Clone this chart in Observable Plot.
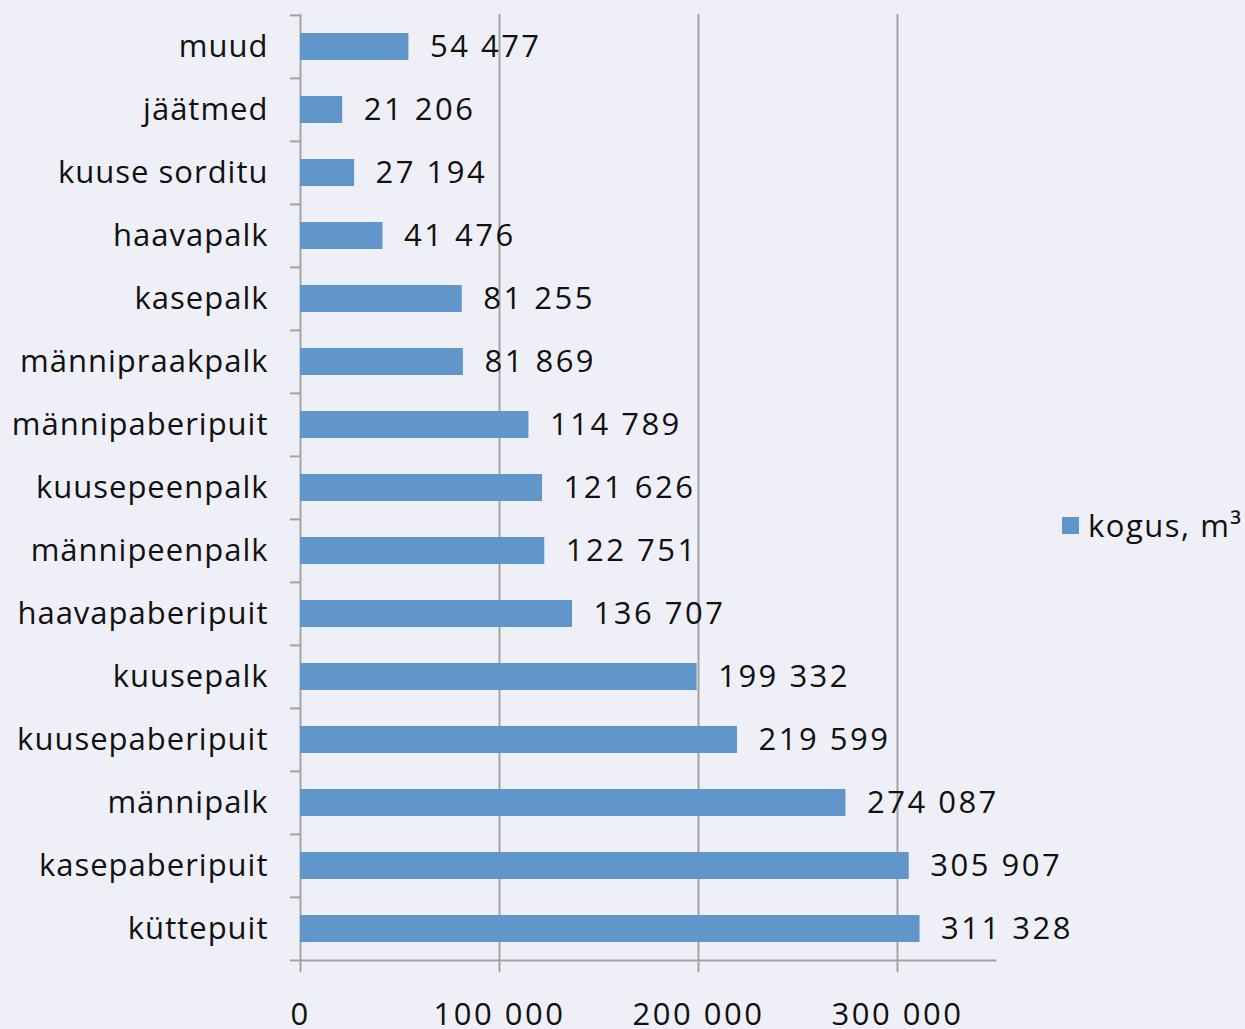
<!DOCTYPE html>
<html><head><meta charset="utf-8">
<script src="https://cdn.jsdelivr.net/npm/d3@7"></script>
<script src="https://cdn.jsdelivr.net/npm/@observablehq/plot@0.6"></script>
<style>
html,body{margin:0;padding:0;background:#eff0f7;}
#wrap{position:relative;width:1245px;height:1029px;overflow:hidden;font-family:"Open Sans",sans-serif;}
#legend{position:absolute;left:1062px;top:504px;font-size:31px;letter-spacing:1.5px;color:#111;white-space:nowrap;display:flex;align-items:center;}
#legend span.sw{display:inline-block;width:17px;height:17px;background:#6196cb;margin-right:9px;}
</style></head>
<body><div id="wrap"><div id="legend"><span class="sw"></span>kogus, m³</div></div>
<script>
const categories = ["muud","jäätmed","kuuse sorditu","haavapalk","kasepalk","männipraakpalk","männipaberipuit","kuusepeenpalk","männipeenpalk","haavapaberipuit","kuusepalk","kuusepaberipuit","männipalk","kasepaberipuit","küttepuit"];
const values = [54477,21206,27194,41476,81255,81869,114789,121626,122751,136707,199332,219599,274087,305907,311328];
const xTicks = [0,100000,200000,300000];
const seriesName = "kogus, m³";

const data = categories.map((c,i)=>({cat:c, v:values[i]}));
const fmt = v => d3.format(",")(v).replace(/,/g," ");
const W=1245,H=1029, mL=300, mR=248.5, mT=14, mB=67;
const step = (H-mT-mB)/categories.length;
const grid = "#a3a3a3";
const last = categories[categories.length-1];

const chart = Plot.plot({
  width:W, height:H, marginLeft:mL, marginRight:mR, marginTop:mT, marginBottom:mB,
  style:{background:"#eff0f7", fontFamily:"'Open Sans',sans-serif", fontSize:"31px", color:"#111", overflow:"visible"},
  x:{domain:[0,350000], axis:null},
  y:{domain:categories, paddingInner:0.57, paddingOuter:0.285, axis:null},
  marks:[
    Plot.ruleX(xTicks, {stroke:grid, strokeWidth:2, insetBottom:-10}),
    Plot.barX(data, {y:"cat", x:"v", fill:"#6196cb"}),
    Plot.text(data, {y:"cat", x:"v", text:d=>fmt(d.v), textAnchor:"start", dx:21, fill:"#111", fontSize:31}),
    Plot.text(categories, {y:d=>d, frameAnchor:"left", textAnchor:"end", dx:-32, fill:"#111", fontSize:31}),
    Plot.text(xTicks, {x:d=>d, text:fmt, frameAnchor:"bottom", dy:62, fill:"#111", fontSize:31}),
    Plot.ruleY(categories, {y:d=>d, dy:-step/2, x1:-5000, x2:0, stroke:grid, strokeWidth:2}),
    Plot.ruleY([last], {y:d=>d, dy:step/2, x1:-5000, x2:350000, stroke:grid, strokeWidth:2})
  ]
});
const texts = chart.querySelectorAll('g[aria-label="text"]');
if (texts[0]) texts[0].style.letterSpacing = "2.5px";
if (texts[1]) texts[1].style.letterSpacing = "1px";
if (texts[2]) texts[2].style.letterSpacing = "2.5px";
document.getElementById("wrap").prepend(chart);
</script></body></html>
